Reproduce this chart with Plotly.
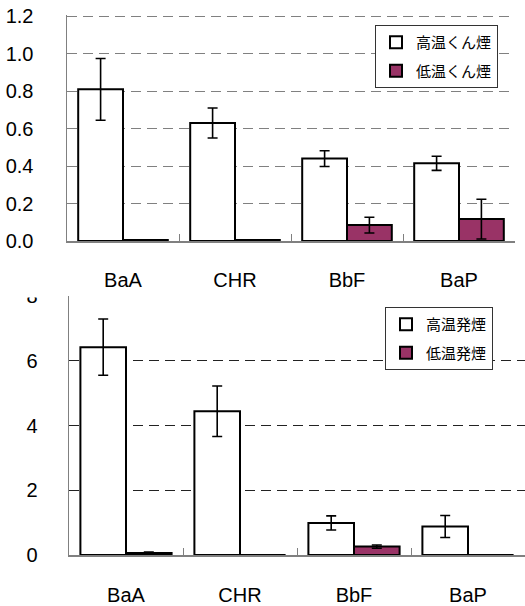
import plotly.graph_objects as go

categories = ["BaA", "CHR", "BbF", "BaP"]

# Top chart (くん煙)
top_high = [0.81, 0.63, 0.44, 0.415]
top_high_err = [0.165, 0.08, 0.042, 0.038]
top_low = [0.005, 0.005, 0.085, 0.117]
top_low_err = [0.0, 0.0, 0.042, 0.106]

# Bottom chart (発煙)
bot_high = [6.42, 4.44, 0.99, 0.88]
bot_high_err = [0.87, 0.78, 0.22, 0.34]
bot_low = [0.06, 0.0, 0.26, 0.0]
bot_low_err = [0.03, 0.0, 0.05, 0.0]

top_names = ["高温くん煙", "低温くん煙"]
bot_names = ["高温発煙", "低温発煙"]

PURPLE = "#993366"
FONT = "Liberation Sans, Arial, Noto Sans CJK JP, sans-serif"
JFONT = "Noto Sans CJK JP, sans-serif"

fig = go.Figure()

def add_bar(x, y, err, name, color, xa, ya, legend):
    fig.add_trace(go.Bar(
        x=x, y=y, name=name, xaxis=xa, yaxis=ya, legend=legend,
        legendgroup=name,
        marker=dict(color=color, line=dict(color="black", width=2)),
        error_y=dict(type="data", array=err, visible=True, color="black",
                     thickness=1.6, width=5),
    ))

add_bar(categories, top_high, top_high_err, top_names[0], "white", "x", "y", "legend")
add_bar(categories, top_low, top_low_err, top_names[1], PURPLE, "x", "y", "legend")
add_bar(categories, bot_high, bot_high_err, bot_names[0], "white", "x2", "y2", "legend2")
add_bar(categories, bot_low, bot_low_err, bot_names[1], PURPLE, "x2", "y2", "legend2")

W, H = 525, 606

def py(px):
    return 1 - px / H

TICKFONT = dict(family=FONT, size=20, color="black")

xcommon = dict(
    type="category", showline=True, linecolor="#808080", linewidth=1.5,
    ticks="inside", tickson="boundaries", ticklen=7, tickcolor="#808080",
    tickwidth=1, showgrid=False, tickfont=TICKFONT, automargin=False,
    fixedrange=True,
)
ycommon = dict(
    showline=True, linecolor="#808080", linewidth=1.5, showgrid=True,
    griddash="10px,6px", gridwidth=1, zeroline=False, ticks="",
    tickfont=TICKFONT, automargin=False, fixedrange=True,
)

legcommon = dict(
    xanchor="left", yanchor="top", bgcolor="white", bordercolor="#333333",
    borderwidth=1, font=dict(family=JFONT, size=15, color="black"),
    itemsizing="constant", tracegroupgap=6,
)

fig.update_layout(
    width=W, height=H,
    margin=dict(l=0, r=0, t=0, b=0),
    paper_bgcolor="white", plot_bgcolor="white",
    barmode="group", bargap=0.2, bargroupgap=0,
    showlegend=True,
    font=dict(family=FONT, size=16, color="black"),
    xaxis=dict(domain=[67 / W, 515 / W], anchor="y", ticklabelstandoff=20, **xcommon),
    yaxis=dict(domain=[py(241), py(15)], anchor="x", range=[0, 1.207],
               dtick=0.2, tickformat=".1f", gridcolor="#808080",
               ticklabelstandoff=28, **ycommon),
    xaxis2=dict(domain=[69 / W, 1.0], anchor="y2", ticklabelstandoff=21, **xcommon),
    yaxis2=dict(domain=[py(555), py(296)], anchor="x2", range=[0, 8],
                dtick=2, gridcolor="#222222", ticklabelstandoff=26, **ycommon),
    legend=dict(x=375 / W, y=py(25), **legcommon),
    legend2=dict(x=385 / W, y=py(307), **legcommon),
    shapes=[dict(type="rect", xref="paper", yref="paper",
                 x0=0, x1=60 / W, y0=py(297.5), y1=py(287),
                 fillcolor="white", line=dict(width=0), layer="above")],
)

fig.write_html("out.html",
               config={"displayModeBar": False, "staticPlot": True},
               post_script="document.body.style.margin='0';document.body.style.overflow='hidden';")
